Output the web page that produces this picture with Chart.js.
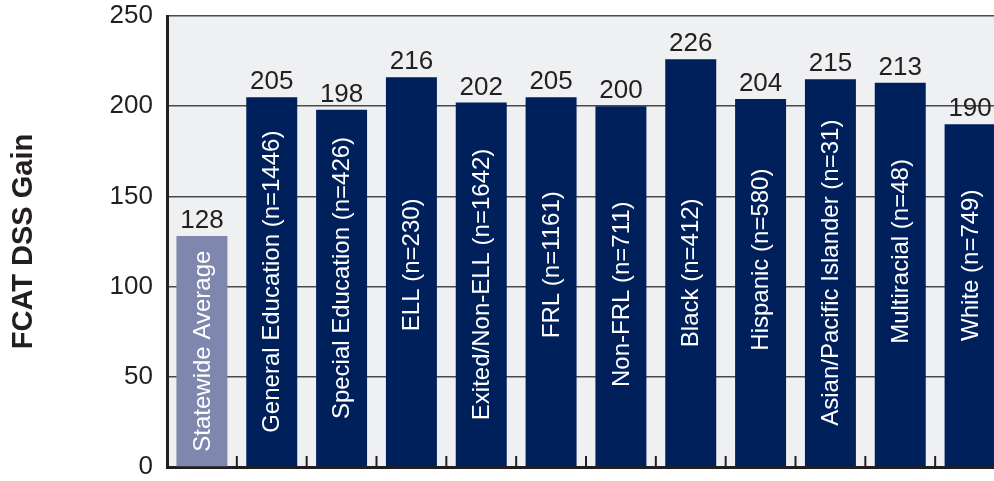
<!DOCTYPE html>
<html>
<head>
<meta charset="utf-8">
<script src="https://cdn.jsdelivr.net/npm/chart.js@4.4.1/dist/chart.umd.min.js"></script>
<style>
  html, body { margin: 0; padding: 0; background: #fff; overflow: hidden; }
  #wrap { width: 1008px; height: 481px; position: relative; }
</style>
</head>
<body>
<div id="wrap"><canvas id="gainChart"></canvas></div>
<script>
// Grupos y ganancias FCAT DSS
const groups = [
    'Statewide Average',
    'General Education (n=1446)',
    'Special Education (n=426)',
    'ELL (n=230)',
    'Exited/Non-ELL (n=1642)',
    'FRL (n=1161)',
    'Non-FRL (n=711)',
    'Black (n=412)',
    'Hispanic (n=580)',
    'Asian/Pacific Islander (n=31)',
    'Multiracial (n=48)',
    'White (n=749)'
];
const gains = [128, 205, 198, 216, 202, 205, 200, 226, 204, 215, 213, 190];
const yTicks = [0, 50, 100, 150, 200, 250];

// Desplazamiento vertical (px) del rótulo dentro de cada barra
const labelShift = [0, 0, -10, -7, 0, -17, 8, 10, -23, 0, -23, -30];

const NAVY = '#00205b';
const STATE = '#7f87ae';
const INK = '#231f20';
const FONT = '"Liberation Sans", Arial, Helvetica, sans-serif';

// Fondo gris del área de trazado
const plotBackground = {
    id: 'plotBackground',
    beforeDraw(chart) {
        const { ctx, chartArea: a } = chart;
        ctx.save();
        ctx.fillStyle = '#eff0f2';
        ctx.fillRect(a.left, a.top, a.right - a.left, a.bottom - a.top);
        ctx.restore();
    }
};

// Marcas entre categorías, hacia dentro
const innerTicks = {
    id: 'innerTicks',
    afterDraw(chart) {
        const { ctx, chartArea: a, scales: { x } } = chart;
        ctx.save();
        ctx.strokeStyle = INK;
        ctx.lineWidth = 2;
        for (let i = 1; i <= groups.length; i++) {
            const px = (x.getPixelForValue(i - 1) + x.getPixelForValue(i)) / 2;
            ctx.beginPath();
            ctx.moveTo(px, a.bottom);
            ctx.lineTo(px, a.bottom - 11);
            ctx.stroke();
        }
        ctx.restore();
    }
};

// Valores encima y nombres girados dentro de cada barra
const barLabels = {
    id: 'barLabels',
    afterDatasetsDraw(chart) {
        const { ctx } = chart;
        const meta = chart.getDatasetMeta(0);
        ctx.save();
        meta.data.forEach((bar, i) => {
            ctx.fillStyle = INK;
            ctx.font = '26px ' + FONT;
            ctx.textAlign = 'center';
            ctx.textBaseline = 'alphabetic';
            ctx.fillText(String(gains[i]), bar.x, bar.y - 8);

            ctx.save();
            ctx.translate(bar.x, (bar.y + bar.base) / 2 + labelShift[i]);
            ctx.rotate(-Math.PI / 2);
            ctx.fillStyle = '#ffffff';
            ctx.font = '24px ' + FONT;
            ctx.textBaseline = 'middle';
            ctx.fillText(groups[i], 0, 1);
            ctx.restore();
        });
        ctx.restore();
    }
};

const ctx = document.getElementById('gainChart').getContext('2d');
new Chart(ctx, {
    type: 'bar',
    data: {
        labels: groups,
        datasets: [{
            data: gains,
            backgroundColor: gains.map((_, i) => i === 0 ? STATE : NAVY),
            barPercentage: 0.73,
            categoryPercentage: 1
        }]
    },
    options: {
        responsive: true,
        maintainAspectRatio: false,
        animation: false,
        layout: { padding: { top: 16, bottom: 14, left: 0, right: 3 } },
        plugins: {
            legend: { display: false },
            tooltip: { enabled: false }
        },
        scales: {
            x: {
                ticks: { display: false },
                grid: { display: false, drawTicks: false },
                border: { display: true, color: INK, width: 3 },
                afterFit(scale) { scale.height = 0; }
            },
            y: {
                min: 0,
                max: 250,
                afterBuildTicks(scale) { scale.ticks = yTicks.map(v => ({ value: v })); },
                ticks: {
                    color: INK,
                    padding: 14,
                    font: { family: FONT, size: 26 }
                },
                grid: { color: '#4a4a4a', lineWidth: 1.5, drawTicks: false },
                border: { display: true, color: INK, width: 3 },
                title: {
                    display: true,
                    text: 'FCAT DSS Gain',
                    color: INK,
                    padding: { top: 7, bottom: 0 },
                    font: { family: FONT, size: 29, weight: 'bold' }
                },
                afterFit(scale) {
                    scale.width = 167;
                    scale.paddingTop = 0;
                    scale.paddingBottom = 0;
                }
            }
        }
    },
    plugins: [plotBackground, innerTicks, barLabels]
});
</script>
</body>
</html>
